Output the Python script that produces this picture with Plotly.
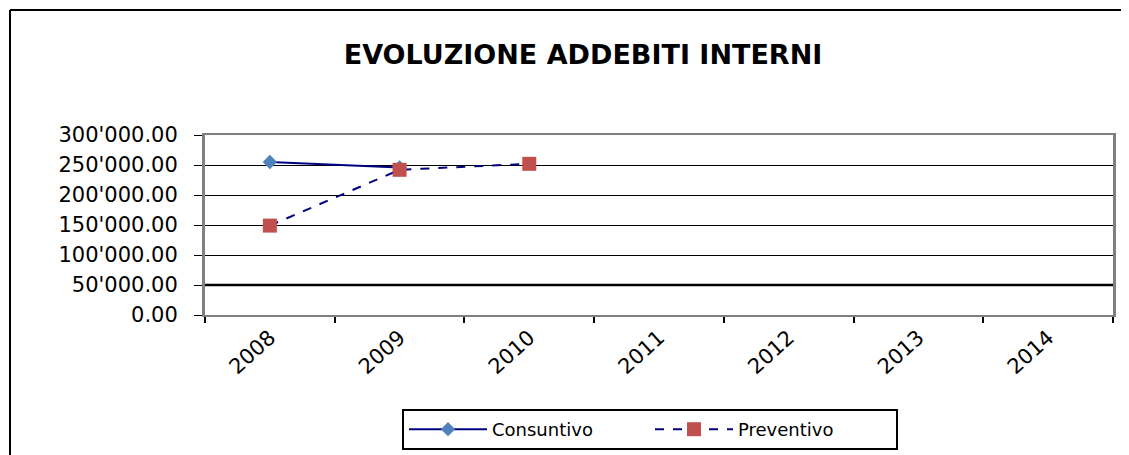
import plotly.graph_objects as go

# values
anni = ['2008', '2009', '2010', '2011', '2012', '2013', '2014']
consuntivo = [255000, 246000, None, None, None, None, None]
preventivo = [149000, 242000, 252000, None, None, None, None]

# the page body adds an 8px margin, so the figure is 8px smaller and every
# position below is measured from the reference minus 8
OFF = 8
W, H = 1129 - OFF, 455 - OFF
ML, MR, MT, MB = 205 - OFF, 16, 135 - OFF, 140
pw = W - ML - MR
ph = H - MT - MB

fig = go.Figure()

fig.add_trace(go.Scatter(x=anni, y=consuntivo, name='Consuntivo',
                         mode='lines+markers',
                         line=dict(color='#000080', width=2),
                         marker=dict(symbol='diamond', size=11, color='#4F81BD')))

fig.add_trace(go.Scatter(x=anni, y=preventivo, name='Preventivo',
                         mode='lines+markers',
                         line=dict(color='#000080', width=2, dash='dash'),
                         marker=dict(symbol='square', size=14, color='#C0504D')))

# the 50'000 gridline is drawn heavier in the original
fig.add_hline(y=50000, line=dict(color='black', width=2.5), layer='below')

# outer chart frame (only left and top edges are visible in the crop)
fx = (10 - OFF - ML) / pw
fy = (H - MB - (10 - OFF)) / ph
fig.add_shape(type='line', xref='paper', yref='paper', x0=fx, x1=fx, y0=-2, y1=fy,
              line=dict(color='black', width=2))
fig.add_shape(type='line', xref='paper', yref='paper', x0=fx, x1=1.5, y0=fy, y1=fy,
              line=dict(color='black', width=2))

fig.update_layout(
    width=W, height=H,
    margin=dict(l=ML, r=MR, t=MT, b=MB, autoexpand=False),
    paper_bgcolor='white', plot_bgcolor='white',
    separators=".'",
    font=dict(family='DejaVu Sans', color='black'),
    title=dict(text='<b>EVOLUZIONE ADDEBITI INTERNI</b>', x=(583 - OFF) / W,
               xref='container', xanchor='center',
               y=1 - (55 - OFF) / H, yanchor='middle',
               font=dict(size=27, family='DejaVu Sans', color='black')),
    showlegend=True,
    legend=dict(orientation='h', x=(650 - OFF - ML) / pw, xanchor='center',
                y=-(409 - OFF - (H - MB)) / ph, yanchor='top',
                bordercolor='black', borderwidth=2,
                entrywidth=153, itemwidth=78,
                font=dict(size=18, family='DejaVu Sans')),
)

fig.update_xaxes(type='category', categoryorder='array', categoryarray=anni,
                 range=[-0.5, 6.5], tickson='boundaries',
                 showline=True, linecolor='#808080', linewidth=2, mirror=True,
                 ticks='outside', ticklen=6, tickcolor='black', tickwidth=2,
                 tickangle=-42, tickfont=dict(size=21), showgrid=False)

fig.update_yaxes(range=[0, 300000], dtick=50000, tickformat=',.2f',
                 showline=True, linecolor='#808080', linewidth=3, mirror=True,
                 ticks='outside', ticklen=8, tickcolor='black',
                 ticklabelstandoff=12,
                 showgrid=True, gridcolor='black', gridwidth=1,
                 zeroline=False, tickfont=dict(size=21))

fig.write_html("out.html")
